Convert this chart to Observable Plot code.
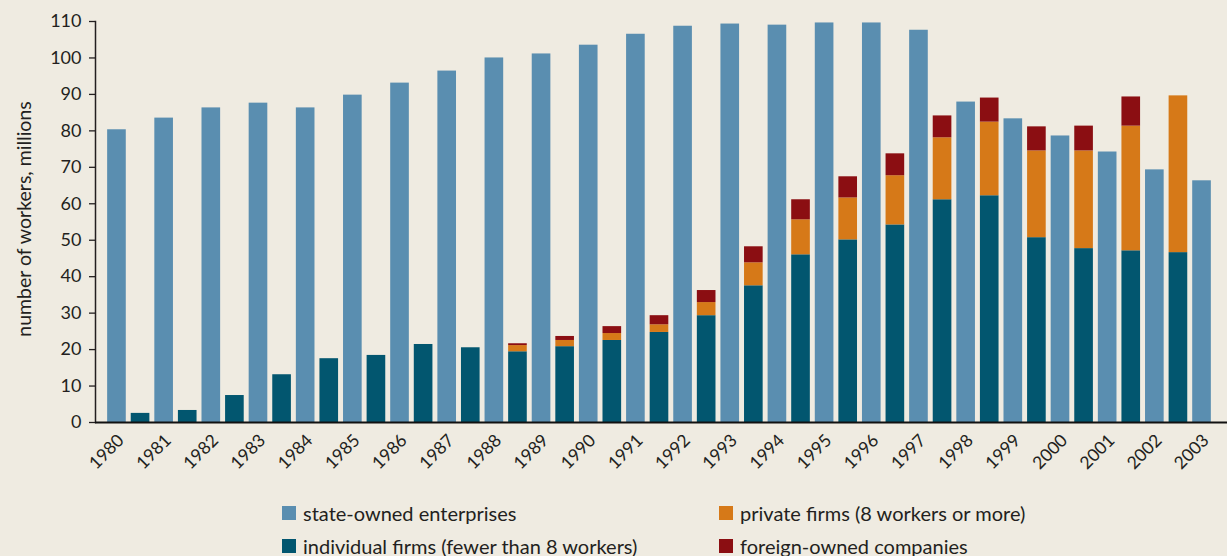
<!DOCTYPE html>
<html>
<head>
<meta charset="utf-8">
<script src="https://cdn.jsdelivr.net/npm/d3@7"></script>
<script src="https://cdn.jsdelivr.net/npm/@observablehq/plot@0.6"></script>
<style>
  html, body { margin: 0; padding: 0; background: #efebe1; }
  body { width: 1227px; height: 556px; overflow: hidden; font-family: Lato, "Open Sans", sans-serif; color: #231f20; }
  #chart svg { display: block; }
  #legend { position: relative; height: 66px; font-size: 20px; line-height: 20px; }
  .item { position: absolute; display: flex; align-items: center; white-space: nowrap; height: 20px; }
  .sw { width: 14px; height: 14px; margin-right: 7px; flex: none; }
</style>
</head>
<body>
<div id="chart"></div>
<div id="legend"></div>
<script>
// ---- data (millions of workers) ----
const years = [1980,1981,1982,1983,1984,1985,1986,1987,1988,1989,1990,1991,1992,1993,1994,1995,1996,1997,1998,1999,2000,2001,2002,2003];
const stateOwned = [80.3,83.5,86.3,87.6,86.3,89.8,93.1,96.4,100.0,101.1,103.5,106.5,108.7,109.3,109.0,109.6,109.6,107.6,87.9,83.3,78.6,74.2,69.3,66.3];
const nonStateYears = [1981,1982,1983,1984,1985,1986,1987,1988,1989,1990,1991,1992,1993,1994,1995,1996,1997,1998,1999,2000,2001,2002,2003];
const individualFirms = [2.5,3.3,7.4,13.1,17.5,18.4,21.4,20.5,19.4,20.8,22.5,24.7,29.3,37.5,46.0,50.1,54.2,61.1,62.2,50.7,47.7,47.1,46.6];
const privateFirms = [0,0,0,0,0,0,0,0,1.7,1.7,1.9,2.1,3.6,6.3,9.6,11.5,13.5,17.0,20.2,23.8,26.8,34.2,43.0];
const foreignOwned = [0,0,0,0,0,0,0,0,0.5,1.1,1.9,2.5,3.3,4.4,5.5,5.8,6.0,6.0,6.6,6.6,6.8,8.0,0];
const seriesNames = ["state-owned enterprises","individual firms (fewer than 8 workers)","private firms (8 workers or more)","foreign-owned companies"];
const seriesColors = ["#5a8eb0","#02566f","#d67918","#8b0e12"];
const yTicks = [0,10,20,30,40,50,60,70,80,90,100,110];
const yTitle = "number of workers, millions";

// ---- build table ----
const slots = [];
const rows = [];
years.forEach((y, i) => {
  const j = nonStateYears.indexOf(y);
  if (j >= 0) {
    slots.push("N" + y);
    rows.push({slot: "N" + y, type: seriesNames[1], value: individualFirms[j]});
    rows.push({slot: "N" + y, type: seriesNames[2], value: privateFirms[j]});
    rows.push({slot: "N" + y, type: seriesNames[3], value: foreignOwned[j]});
  }
  slots.push("S" + y);
  rows.push({slot: "S" + y, type: seriesNames[0], value: stateOwned[i]});
});

const plot = Plot.plot({
  width: 1227,
  height: 490,
  marginLeft: 95,
  marginRight: 0,
  marginTop: 21,
  marginBottom: 68,
  style: {background: "transparent", fontFamily: "Lato, 'Open Sans', sans-serif", color: "#231f20", overflow: "visible"},
  x: {domain: slots, paddingInner: 0.21, paddingOuter: 0.6, align: 0.429, round: false, axis: null},
  y: {domain: [0, 110]},
  color: {domain: seriesNames, range: seriesColors},
  marks: [
    Plot.barY(rows, {x: "slot", y: "value", fill: "type"}),
    Plot.axisY({ticks: yTicks, tickSize: 6, tickPadding: 8, fontSize: 18, stroke: "#231f20", strokeWidth: 1.3, label: null}),
    Plot.text([yTitle], {frameAnchor: "left", text: d => d, rotate: -90, textAnchor: "middle", lineAnchor: "middle",
      dx: -71, dy: -3, fontSize: 19.5, fill: "#231f20"}),
    Plot.frame({anchor: "left", stroke: "#231f20", strokeWidth: 1.5}),
    Plot.ruleY([0], {stroke: "#111", strokeWidth: 2}),
    Plot.text(years, {x: d => "S" + d, y: 0, text: d => String(d), rotate: -45, textAnchor: "end",
      lineAnchor: "bottom", dx: 8, dy: 19, fontSize: 17.5, fill: "#231f20"})
  ]
});
document.getElementById("chart").appendChild(plot);

// ---- legend ----
const legend = document.getElementById("legend");
const pos = [[282, 23], [282, 56], [719, 23], [719, 56]];
[0, 1, 2, 3].forEach((k, n) => {
  const it = document.createElement("div");
  it.className = "item";
  it.style.left = pos[n][0] + "px";
  it.style.top = (pos[n][1] - 10) + "px";
  const sw = document.createElement("span");
  sw.className = "sw";
  sw.style.background = seriesColors[k];
  const tx = document.createElement("span");
  tx.textContent = seriesNames[k];
  it.appendChild(sw); it.appendChild(tx);
  legend.appendChild(it);
});
</script>
</body>
</html>
